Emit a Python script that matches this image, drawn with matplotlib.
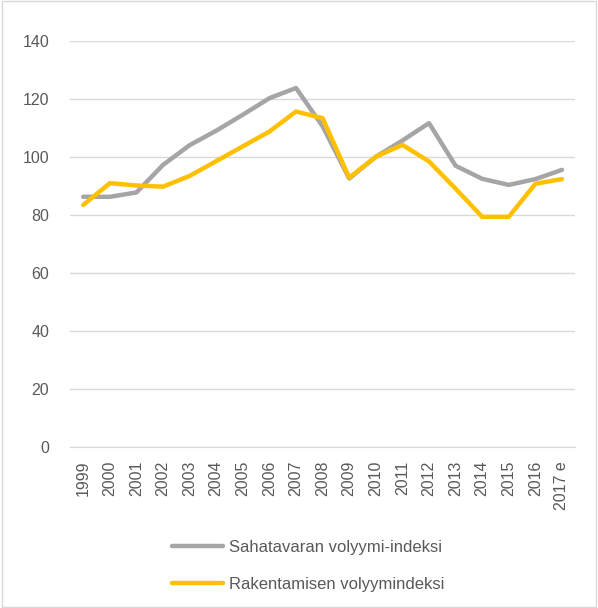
import matplotlib.pyplot as plt
from matplotlib.patches import Rectangle

years = ["1999", "2000", "2001", "2002", "2003", "2004", "2005", "2006", "2007", "2008",
         "2009", "2010", "2011", "2012", "2013", "2014", "2015", "2016", "2017 e"]
saha = [86.2, 86.2, 87.7, 97.2, 104, 109, 114.5, 120.2, 123.7, 110.5,
        92.5, 100, 105.6, 111.6, 96.9, 92.4, 90.3, 92.3, 95.5]
rakennus = [83.4, 90.9, 90.1, 89.7, 93.4, 98.5, 103.6, 108.7, 115.6, 113.3,
            92.8, 100, 104.1, 98.4, 89, 79.3, 79.3, 90.7, 92.3]

plt.rcParams['font.family'] = ['Liberation Sans', 'DejaVu Sans']

fig = plt.figure(figsize=(5.98, 6.08), dpi=100)
ax = fig.add_axes([0.117, 0.265, 0.845, 0.668])

x = list(range(len(years)))
ax.plot(x, saha, color="#A5A5A5", linewidth=3.2, solid_capstyle="round",
        label="Sahatavaran volyymi-indeksi")
ax.plot(x, rakennus, color="#FFC000", linewidth=3.2, solid_capstyle="round",
        label="Rakentamisen volyymindeksi")

ax.set_xlim(-0.5, len(years) - 0.5)
ax.set_ylim(0, 140)
ax.set_yticks(range(0, 141, 20))
ax.set_xticks(x)
ax.set_xticklabels(years, rotation=90)
ax.grid(axis="y", color="#D9D9D9", linewidth=1)
ax.set_axisbelow(True)
for s in ["top", "right", "left"]:
    ax.spines[s].set_visible(False)
ax.spines["bottom"].set_color("#D9D9D9")
ax.tick_params(axis="both", length=0, labelsize=11.5, labelcolor="#595959")
ax.tick_params(axis="y", pad=15)
ax.tick_params(axis="x", pad=10)

leg = fig.legend(loc="upper left", bbox_to_anchor=(0.262, 0.137), frameon=False,
                 fontsize=12, labelcolor="#595959", handlelength=3.1,
                 handletextpad=0.35, labelspacing=1.35)

fig.patches.append(Rectangle((0.003, 0.002), 0.994, 0.996, transform=fig.transFigure,
                             fill=False, edgecolor="#D9D9D9", linewidth=1))

fig.savefig("out.png", dpi=100)
